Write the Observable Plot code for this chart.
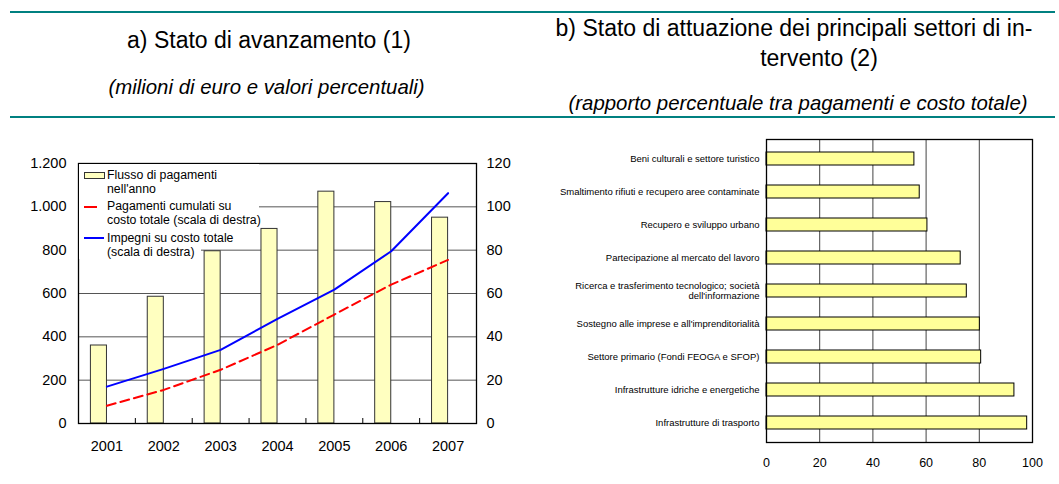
<!DOCTYPE html>
<html>
<head>
<meta charset="utf-8">
<script src="https://cdn.jsdelivr.net/npm/d3@7"></script>
<script src="https://cdn.jsdelivr.net/npm/@observablehq/plot@0.6"></script>
<style>
  body { margin: 0; background: #fff; font-family: "Liberation Sans", Arial, sans-serif; color: #000; }
  #page { position: relative; width: 1059px; height: 484px; overflow: hidden; background: #fff; }
  .abs { position: absolute; white-space: nowrap; }
  .title { font-size: 23px; line-height: 26px; text-align: center; }
  .sub { font-size: 20.4px; line-height: 24px; font-style: italic; text-align: center; }
  .rule { position: absolute; left: 10px; width: 1045px; height: 2px; background: #008080; }
  .leg { position: absolute; font-size: 12.3px; line-height: 13.6px; white-space: nowrap; }
</style>
</head>
<body>
<div id="page">
  <div class="rule" style="top:11px"></div>
  <div class="rule" style="top:116px"></div>
  <div class="abs title" style="left:0px;width:538px;top:27px">a) Stato di avanzamento (1)</div>
  <div class="abs sub" style="left:0px;width:533px;top:75px">(milioni di euro e valori percentuali)</div>
  <div class="abs title" style="left:494px;width:600px;top:15px">b) Stato di attuazione dei principali settori di in-</div>
  <div class="abs title" style="left:519px;width:600px;top:45px">tervento (2)</div>
  <div class="abs sub" style="left:498px;width:600px;top:91px">(rapporto percentuale tra pagamenti e costo totale)</div>
  <div id="left" class="abs" style="left:0px;top:130px"></div>
  <div id="right" class="abs" style="left:530px;top:130px"></div>
  <div id="legend"></div>
</div>
<script>
// ---- Data: panel a ----
const years = [2001, 2002, 2003, 2004, 2005, 2006, 2007];
const flussoPagamenti = [360, 585, 795, 898, 1070, 1022, 950];        // milioni di euro (scala sinistra)
const pagamentiCumulati = [8.2, 15.5, 24.8, 36.3, 50.3, 64.1, 75.5];   // % (scala destra)
const impegni = [17.0, 25.2, 34.0, 48.3, 61.8, 79.5, 106.3];           // % (scala destra)
const leftTicks = [0, 200, 400, 600, 800, 1000, 1200];
const rightTicks = [0, 20, 40, 60, 80, 100, 120];
const legendLabels = ["Flusso di pagamenti\nnell'anno", "Pagamenti cumulati su\ncosto totale (scala di destra)", "Impegni su costo totale\n(scala di destra)"];

// ---- Data: panel b ----
const settori = [
  "Beni culturali e settore turistico",
  "Smaltimento rifiuti e recupero aree contaminate",
  "Recupero e sviluppo urbano",
  "Partecipazione al mercato del lavoro",
  "Ricerca e trasferimento tecnologico; società\ndell'informazione",
  "Sostegno alle imprese e all'imprenditorialità",
  "Settore primario (Fondi FEOGA e SFOP)",
  "Infrastrutture idriche e energetiche",
  "Infrastrutture di trasporto"
];
const attuazione = [55.6, 57.6, 60.5, 73.0, 75.3, 80.2, 80.7, 93.2, 98.0];
const xTicksB = [0, 20, 40, 60, 80, 100];

// ---- Build tables ----
const ratio = 1200 / 120; // right scale mapped onto left scale
const tableA = years.map((y, i) => ({year: y, flusso: flussoPagamenti[i], cum: pagamentiCumulati[i], imp: impegni[i]}));
const tableB = settori.map((s, i) => ({settore: s, valore: attuazione[i]}));
const boundaries = years.slice(1).map(y => y - 0.5);

const itFmt = d3.formatLocale({decimal: ",", thousands: ".", grouping: [3], currency: ["€", ""]}).format(",");
const font = "'Liberation Sans', Arial, sans-serif";

const left = Plot.plot({
  width: 530, height: 354,
  marginLeft: 78, marginRight: 54, marginTop: 33, marginBottom: 61,
  style: {fontFamily: font, fontSize: "14.5px", background: "#fff", color: "#000", overflow: "visible"},
  x: {type: "linear", domain: [years[0] - 0.5, years[years.length - 1] + 0.5], label: null},
  y: {domain: [leftTicks[0], leftTicks[leftTicks.length - 1]], label: null},
  marks: [
    Plot.gridY(leftTicks.slice(1, -1), {stroke: "#555", strokeOpacity: 1, strokeWidth: 1}),
    Plot.rectY(tableA, {x1: d => d.year - 0.5, x2: d => d.year + 0.5, y: "flusso", fill: "#FFFFC0", stroke: "#333", strokeWidth: 1, insetLeft: 12.4, insetRight: 28.4}),
    Plot.line(tableA, {x: "year", y: d => d.imp * ratio, stroke: "#0000FF", strokeWidth: 2}),
    Plot.line(tableA, {x: "year", y: d => d.cum * ratio, stroke: "#FF0000", strokeWidth: 2, strokeDasharray: "9,5"}),
    Plot.ruleX(boundaries, {y1: 0, y2: 23, stroke: "#000"}),
    Plot.axisY(leftTicks, {anchor: "left", tickSize: 0, tickPadding: 12, tickFormat: itFmt, fill: "#000"}),
    Plot.axisY(rightTicks.map(v => v * ratio), {anchor: "right", tickSize: 0, tickPadding: 10, tickFormat: d => String(d / ratio), fill: "#000"}),
    Plot.axisX(years, {anchor: "bottom", tickSize: 0, tickPadding: 17, tickFormat: d => String(d), fill: "#000"}),
    Plot.frame({stroke: "#000", strokeWidth: 1.3})
  ]
});
document.getElementById("left").appendChild(left);

const right = Plot.plot({
  width: 529, height: 354,
  marginLeft: 236, marginRight: 27, marginTop: 9, marginBottom: 42,
  style: {fontFamily: font, fontSize: "12.5px", background: "#fff", color: "#000", overflow: "visible"},
  x: {domain: [xTicksB[0], xTicksB[xTicksB.length - 1]], label: null},
  y: {domain: settori, paddingInner: 0.614, paddingOuter: 0.307, label: null},
  marks: [
    Plot.gridX(xTicksB.slice(1, -1), {stroke: "#444", strokeOpacity: 1, strokeWidth: 1}),
    Plot.barX(tableB, {x: "valore", y: "settore", fill: "#FFFF99", stroke: "#000", strokeWidth: 1}),
    Plot.axisY({anchor: "left", tickSize: 0, tickPadding: 7, fontSize: 9.5, lineHeight: 1.05, fill: "#000"}),
    Plot.axisX(xTicksB, {anchor: "bottom", tickSize: 0, tickPadding: 16, fill: "#000"}),
    Plot.frame({stroke: "#000", strokeWidth: 1.3})
  ]
});
document.getElementById("right").appendChild(right);

// ---- Legend (panel a), HTML overlay inside the plot area ----
const legend = document.getElementById("legend");
legend.innerHTML = `
  <div class="abs" style="left:79px;top:164px;width:180px;height:84px;background:#fff"></div>
  <div class="abs" style="left:79px;top:247px;width:122px;height:12px;background:#fff"></div>
  <div class="abs" style="left:84px;top:172px;width:19px;height:5px;background:#FFFFC0;border:1px solid #333"></div>
  <div class="leg" style="left:107px;top:169px">${legendLabels[0].replace("\n", "<br>")}</div>
  <div class="abs" style="left:84px;top:206px;width:13px;height:2px;background:#FF0000"></div>
  <div class="leg" style="left:107px;top:200px">${legendLabels[1].replace("\n", "<br>")}</div>
  <div class="abs" style="left:84px;top:237px;width:20px;height:2px;background:#0000FF"></div>
  <div class="leg" style="left:107px;top:232px">${legendLabels[2].replace("\n", "<br>")}</div>
`;
</script>
</body>
</html>
